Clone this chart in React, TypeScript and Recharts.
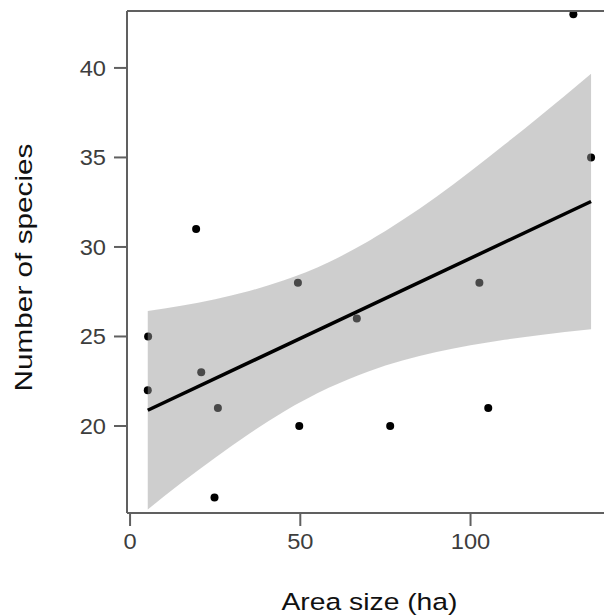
import React from 'react';
import { ComposedChart, XAxis, YAxis, Scatter, Area, Line } from 'recharts';

// observed points: area (ha) vs number of species
const areaSize = [5.3, 5.2, 19.4, 20.9, 25.8, 24.8, 49.3, 49.7, 66.6, 76.4, 102.6, 105.2, 130.2, 135.4];
const species = [25, 22, 31, 23, 21, 16, 28, 20, 26, 20, 28, 21, 43, 35];

// fitted line end points
const fitX = [5.2, 135.4];
const fitY = [20.88, 32.54];

// confidence band read along x
const bandX = [5.2, 15, 25, 35, 45, 58.34, 70, 80, 90, 100, 110, 120, 135.4];
const bandLow = [15.34, 16.81, 18.23, 19.57, 20.78, 22.13, 23.05, 23.66, 24.13, 24.51, 24.82, 25.07, 25.4];
const bandHigh = [26.42, 26.72, 27.08, 27.54, 28.12, 29.15, 30.32, 31.5, 32.81, 34.23, 35.72, 37.25, 39.68];

const xTicks = [0, 50, 100];
const yTicks = [20, 25, 30, 35, 40];
const xDomain = [-0.9, 139.2];
const yDomain = [15.14, 43.18];

const pointData = areaSize.map((x, i) => ({ x, y: species[i] }));
const fitData = fitX.map((x, i) => ({ x, y: fitY[i] }));
const bandData = bandX.map((x, i) => ({ x, y: [bandLow[i], bandHigh[i]] }));

const AXIS = '#606060';
const TICKTXT = '#3d3d3d';
const FONT = '"Liberation Sans", Arial, Helvetica, sans-serif';

const YTick = (props: any) => {
  const { x, y, payload } = props;
  return (
    <text
      transform={`translate(${x},${y + 7.6}) scale(1.1,1)`}
      textAnchor="end"
      fontSize={21.5}
      fontFamily={FONT}
      fill={TICKTXT}
    >
      {payload.value}
    </text>
  );
};

const XTick = (props: any) => {
  const { x, y, payload } = props;
  return (
    <text
      transform={`translate(${x},${y + 16}) scale(1.1,1)`}
      textAnchor="middle"
      fontSize={21.5}
      fontFamily={FONT}
      fill={TICKTXT}
    >
      {payload.value}
    </text>
  );
};

const XLabel = (props: any) => {
  const vb = props.viewBox || { x: 127, y: 513, width: 477, height: 103 };
  const cx = vb.x + vb.width / 2 + 4;
  const by = vb.y + vb.height - 6.5;
  return (
    <text
      x={cx}
      y={by}
      textAnchor="middle"
      fontSize={24.5}
      fontFamily={FONT}
      fill="#111"
      textLength={176}
      lengthAdjust="spacingAndGlyphs"
    >
      Area size (ha)
    </text>
  );
};

const YLabel = (props: any) => {
  const vb = props.viewBox || { x: 0, y: 11, width: 127, height: 502 };
  const bx = 31.7;
  const cy = vb.y + vb.height / 2 + 5.5;
  return (
    <text
      x={bx}
      y={cy}
      transform={`rotate(-90, ${bx}, ${cy})`}
      textAnchor="middle"
      fontSize={24}
      fontFamily={FONT}
      fill="#111"
      textLength={248}
      lengthAdjust="spacingAndGlyphs"
    >
      Number of species
    </text>
  );
};

const Dot = (props: any) => {
  const { cx, cy } = props;
  if (cx == null || cy == null) return null;
  return <circle cx={cx} cy={cy} r={4} fill="#000" />;
};

export default function App() {
  return (
    <div style={{ position: 'absolute', left: 0, top: 0, width: 604, height: 616, background: '#fff' }}>
      <ComposedChart width={604} height={616} margin={{ top: 0, right: 0, bottom: 0, left: 0 }}>
        <XAxis
          xAxisId="top"
          orientation="top"
          type="number"
          dataKey="x"
          domain={xDomain}
          allowDataOverflow
          height={11}
          tick={false}
          tickLine={false}
          axisLine={{ stroke: AXIS, strokeWidth: 2 }}
        />
        <XAxis
          type="number"
          dataKey="x"
          domain={xDomain}
          allowDataOverflow
          ticks={xTicks}
          height={103}
          tickSize={13}
          tickMargin={7}
          tick={<XTick />}
          tickLine={{ stroke: AXIS, strokeWidth: 2 }}
          axisLine={{ stroke: AXIS, strokeWidth: 2 }}
          label={<XLabel />}
        />
        <YAxis
          type="number"
          dataKey="y"
          domain={yDomain}
          allowDataOverflow
          ticks={yTicks}
          width={127}
          tickSize={13}
          tickMargin={8}
          tick={<YTick />}
          tickLine={{ stroke: AXIS, strokeWidth: 2 }}
          axisLine={{ stroke: AXIS, strokeWidth: 2 }}
          label={<YLabel />}
        />
        <Scatter data={pointData} dataKey="y" shape={<Dot />} zIndex={50} isAnimationActive={false} />
        <Area
          data={bandData}
          dataKey="y"
          type="monotone"
          fill="#999999"
          fillOpacity={0.48}
          stroke="none"
          activeDot={false}
          dot={false}
          zIndex={100}
          isAnimationActive={false}
        />
        <Line
          data={fitData}
          dataKey="y"
          type="linear"
          stroke="#000"
          strokeWidth={3.5}
          dot={false}
          activeDot={false}
          zIndex={400}
          isAnimationActive={false}
        />
      </ComposedChart>
    </div>
  );
}
